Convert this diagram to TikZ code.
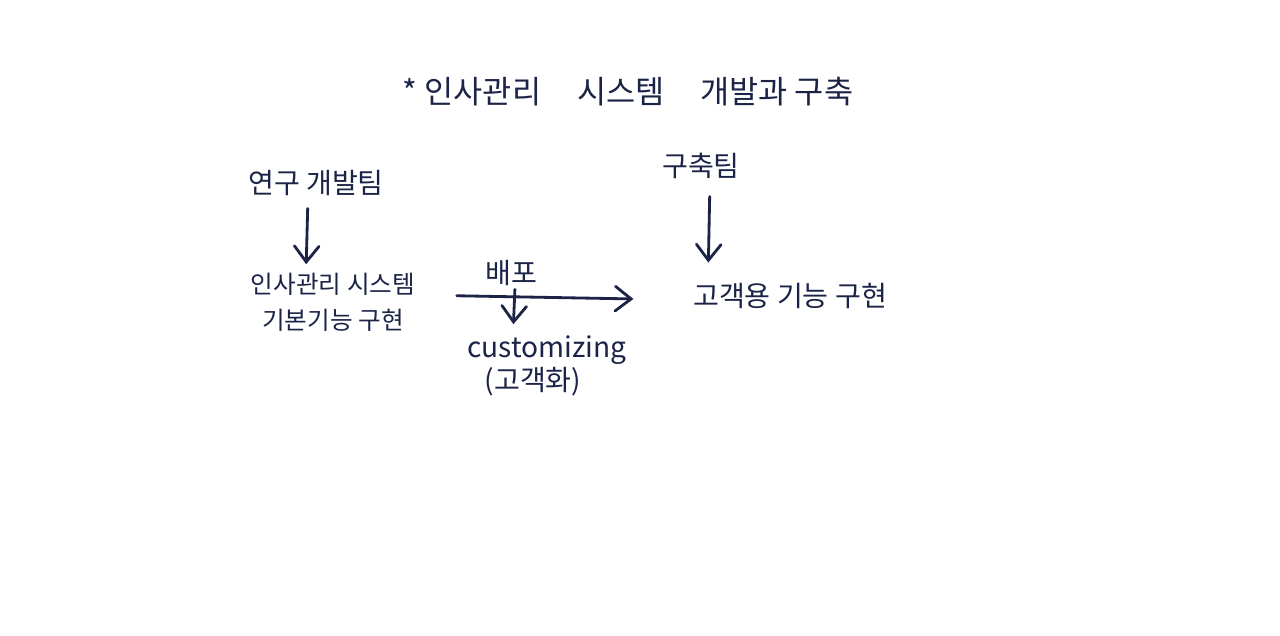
\documentclass[tikz,border=0pt]{standalone}
\usepackage{fontspec}
\setmainfont{Noto Sans CJK KR}
\usetikzlibrary{arrows.meta}
\definecolor{ink}{HTML}{1B2447}
\begin{document}
\begin{tikzpicture}[x=0.01cm,y=-0.01cm,
  lbl/.style={text=ink, inner sep=0pt, font=\fontsize{8}{9.4}\selectfont, align=center},
  arr/.style={draw=ink, line width=0.8pt, line cap=round, -{Straight Barb[length=4.5pt,width=7pt,line cap=round]}}]
\fill[white] (0,0) rectangle (1280,635);
\useasboundingbox (0,0) rectangle (1280,635);
\node[lbl, font=\fontsize{9}{11}\selectfont] (title) at (628,92) {* 인사관리\hspace{0.36cm}시스템\hspace{0.36cm}개발과 구축};
\node[lbl] (dev) at (316,183) {연구 개발팀};
\node[lbl] (build) at (701,166) {구축팀};
\node[lbl, font=\fontsize{7}{10.2}\selectfont] (sys) at (333,302) {인사관리 시스템\\기본기능 구현};
\node[lbl] (deploy) at (511,273) {배포};
\node[lbl] (custom) at (547,366) {customizing\\(고객화)\kern0.28cm};
\node[lbl] (cust) at (790,296) {고객용 기능 구현};
\draw[arr, shorten <=0.12cm, shorten >=0.08cm] ([xshift=-0.08cm]dev.south) -- ([xshift=-0.27cm]sys.north);
\draw[arr, shorten <=0.17cm, shorten >=0.2cm] ([xshift=0.09cm]build.south) -- ([xshift=-0.82cm]cust.north);
\draw[arr, shorten <=0.41cm, shorten >=0.59cm] ([yshift=0.07cm]sys.east) -- ([yshift=-0.04cm]cust.west);
\draw[arr, shorten <=0.03cm, shorten >=0.11cm] ([xshift=0.04cm]deploy.south) -- ([xshift=-0.34cm]custom.north);
\end{tikzpicture}
\end{document}
